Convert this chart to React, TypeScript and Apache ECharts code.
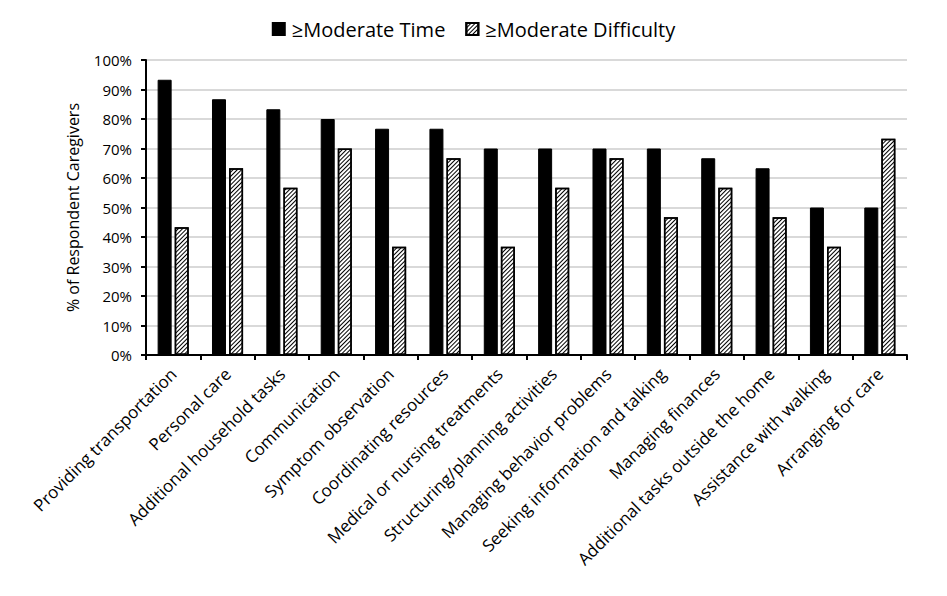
import React, { useEffect, useRef } from "react";
import * as echarts from "echarts";

const categories = [
  "Providing transportation",
  "Personal care",
  "Additional household tasks",
  "Communication",
  "Symptom observation",
  "Coordinating resources",
  "Medical or nursing treatments",
  "Structuring/planning activities",
  "Managing behavior problems",
  "Seeking information and talking",
  "Managing finances",
  "Additional tasks outside the home",
  "Assistance with walking",
  "Arranging for care",
];
const timeValues = [93.3, 86.7, 83.3, 80, 76.7, 76.7, 70, 70, 70, 70, 66.7, 63.3, 50, 50];
const difficultyValues = [43.3, 63.3, 56.7, 70, 36.7, 66.7, 36.7, 56.7, 66.7, 46.7, 56.7, 46.7, 36.7, 73.3];
const yTicks = { min: 0, max: 100, interval: 10 };

const FONT = "'Open Sans', 'Noto Sans', sans-serif";

export default function App() {
  const ref = useRef<HTMLDivElement>(null);
  useEffect(() => {
    const chart = echarts.init(ref.current!, null, { renderer: "svg" });
    chart.setOption({
      animation: false,
      aria: { enabled: false },
      legend: {
        top: 6,
        left: "center",
        itemWidth: 12,
        itemHeight: 12,
        itemGap: 20,
        textStyle: { fontFamily: FONT, fontSize: 20, color: "#000", padding: [0, 0, 0, 2] },
        data: [
          { name: "≥Moderate Time", icon: "rect" },
          { name: "≥Moderate Difficulty", icon: "rect" },
        ],
      },
      grid: { left: 138, right: 32, top: 52, bottom: 233, containLabel: false },
      xAxis: {
        type: "category",
        data: categories,
        axisLine: { lineStyle: { color: "#000", width: 2 } },
        axisTick: { show: true, alignWithLabel: false, length: 5, lineStyle: { color: "#000", width: 2 } },
        axisLabel: {
          interval: 0,
          rotate: 45,
          fontFamily: FONT,
          fontSize: 17,
          color: "#000",
          margin: 16,
        },
      },
      yAxis: {
        type: "value",
        min: yTicks.min,
        max: yTicks.max,
        interval: yTicks.interval,
        name: "% of Respondent Caregivers",
        nameLocation: "middle",
        nameGap: 65,
        nameTextStyle: { fontFamily: FONT, fontSize: 16, color: "#000" },
        axisLine: { show: true, lineStyle: { color: "#000", width: 2 } },
        axisTick: { show: true, length: 5, lineStyle: { color: "#000", width: 2 } },
        axisLabel: {
          formatter: (v: number) => `${v}%`,
          fontFamily: FONT,
          fontSize: 15,
          color: "#000",
          margin: 14,
        },
        splitLine: { show: true, lineStyle: { color: "#d9d9d9", width: 2 } },
      },
      series: [
        {
          name: "≥Moderate Time",
          type: "bar",
          data: timeValues,
          barWidth: 14,
          barGap: "22%",
          itemStyle: { color: "#000", borderColor: "#000", borderWidth: 1 },
        },
        {
          name: "≥Moderate Difficulty",
          type: "bar",
          data: difficultyValues,
          barWidth: 14,
          itemStyle: {
            color: "#fff",
            borderColor: "#000",
            borderWidth: 1.5,
            decal: {
              symbol: "rect",
              color: "#000",
              backgroundColor: "#fff",
              dashArrayX: [1, 0],
              dashArrayY: [1, 2],
              rotation: -Math.PI / 4,
              symbolSize: 1,
            },
          },
        },
      ],
    });
    return () => chart.dispose();
  }, []);
  return <div ref={ref} style={{ width: 931, height: 580 }} />;
}
